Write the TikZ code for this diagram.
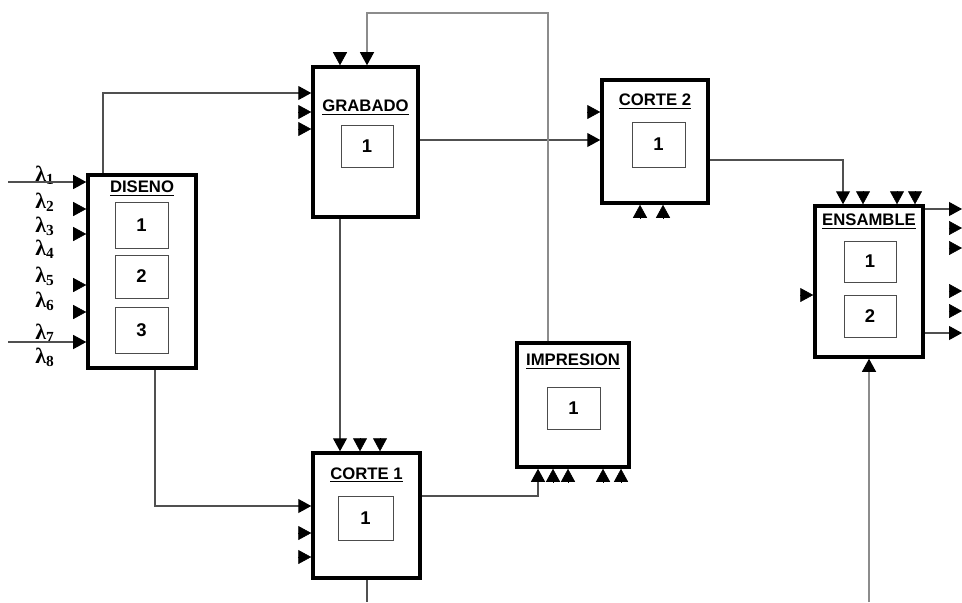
\documentclass[tikz,border=0pt]{standalone}
\usepackage{fontspec}
\setmainfont{Liberation Sans}
\newfontfamily\grkfont{Liberation Serif}
\usetikzlibrary{arrows.meta, positioning, calc, fit}
\definecolor{cline}{HTML}{505050}
\definecolor{cfaint}{HTML}{8C8C8C}
\tikzset{
  blk/.style={draw, line width=2pt, inner sep=0pt},
  cell/.style={draw=black!70, line width=0.5pt, inner sep=0pt, minimum width=1.06cm, minimum height=0.88cm, font=\bfseries\fontsize{10.5}{12}\selectfont},
  ttl/.style={font=\bfseries\fontsize{9.5}{11}\selectfont, inner sep=1pt},
  conn/.style={draw=cline, line width=0.6pt},
  faint/.style={draw=cfaint, line width=0.6pt},
  tip/.style={-{Triangle[length=0.26cm, width=0.28cm, color=black]}},
  stub/.style={tip, line width=0.3pt},
  lam/.style={font=\grkfont\bfseries\fontsize{12.5}{13}\selectfont, inner sep=0pt},
}

\begin{document}
\begin{tikzpicture}[x=0.02cm, y=-0.02cm]
  \useasboundingbox (0,0) rectangle (962,602);
  % process blocks
  \node[blk, fit={(88,175) (196,368)}] (dis) {};
  \node[blk, fit={(313,67) (418,217)}] (gra) {};
  \node[blk, fit={(602,80) (708,203)}] (co2) {};
  \node[blk, fit={(313,453) (420,578)}] (co1) {};
  \node[blk, fit={(517,343) (629,467)}] (imp) {};
  \node[blk, fit={(815,206) (923,357)}] (ens) {};
  % titles
  \node[ttl] (disT) at (dis.north |- 0,189) {\underline{DISENO}};
  \node[ttl] (graT) at (gra.north |- 0,108) {\underline{GRABADO}};
  \node[ttl] (co2T) at (co2.north |- 0,102) {\underline{CORTE 2}};
  \node[ttl] (co1T) at (co1.north |- 0,475) {\underline{CORTE 1}};
  \node[ttl] (impT) at (imp.north |- 0,362) {\underline{IMPRESION}};
  \node[ttl] (ensT) at (ens.north |- 0,222) {\underline{ENSAMBLE}};
  % inner cells
  \node[cell, minimum height=0.92cm] (dis1) at (141.5,225) {1};
  \node[cell, minimum height=0.86cm] (dis2) at (141.5,276.5) {2};
  \node[cell, minimum height=0.92cm] (dis3) at (141.5,330) {3};
  \node[cell, minimum width=1.04cm, minimum height=0.84cm] (gra1) at (367,146) {1};
  \node[cell, minimum height=0.9cm] (co21) at (658.5,144.5) {1};
  \node[cell, minimum width=1.1cm] (co11) at (365.5,518) {1};
  \node[cell, minimum height=0.84cm] (imp1) at (573.5,408) {1};
  \node[cell, minimum width=1.04cm, minimum height=0.82cm] (ens1) at (870,261.5) {1};
  \node[cell, minimum width=1.04cm, minimum height=0.84cm] (ens2) at (870,316) {2};
  % lambda inputs
  \foreach \i/\y in {1/175,2/202,3/226,4/249,5/276,6/301,7/333,8/357}
    \node[lam] (l\i) at (45,\y) {λ\textsubscript{\i}};
  \coordinate (in1) at (8,182);
  \coordinate (in7) at (8,342);
  \draw[conn, tip] (in1) -- (dis.west |- in1);
  \draw[conn, tip] (in7) -- (dis.west |- in7);
  % connectors
  \draw[conn, tip] (dis.north -| 103,0) |- (gra.west |- 0,93);
  \draw[conn, tip] (dis.south -| 155,0) |- (co1.west |- 0,506);
  \draw[conn, tip] (gra.east |- 0,140) -- (co2.west |- 0,140);
  \draw[conn, tip] (gra.south -| 340,0) -- (co1.north -| 340,0);
  \draw[faint, tip] (imp.north -| 548,0) |- (367,13) -- (gra.north -| 367,0);
  \draw[conn, tip] (co1.east |- 0,496) -| (imp.south -| 538,0);
  \draw[conn, tip] (co2.east |- 0,160) -| (ens.north -| 843,0);
  \coordinate (outE1) at (962,209);
  \coordinate (outE2) at (962,333);
  \draw[conn, tip] (ens.east |- outE1) -- (outE1);
  \draw[conn, tip] (ens.east |- outE2) -- (outE2);
  \coordinate (inE) at (869,602);
  \draw[faint, tip] (inE) -- (ens.south -| inE);
  \coordinate (outC1) at (367,602);
  \draw[conn] (co1.south -| outC1) -- (outC1);
  % arrow stubs
  \foreach \y in {209,234,285,312}
    \draw[stub] ($(dis.west |- 0,\y)+(-13,0)$) -- (dis.west |- 0,\y);
  \foreach \y in {112,129}
    \draw[stub] ($(gra.west |- 0,\y)+(-13,0)$) -- (gra.west |- 0,\y);
  \draw[stub] ($(gra.north -| 340,0)+(0,-13)$) -- (gra.north -| 340,0);
  \draw[stub] ($(co2.west |- 0,112)+(-13,0)$) -- (co2.west |- 0,112);
  \foreach \x in {640,663}
    \draw[stub] ($(co2.south -| \x,0)+(0,13)$) -- (co2.south -| \x,0);
  \foreach \x in {360,380}
    \draw[stub] ($(co1.north -| \x,0)+(0,-13)$) -- (co1.north -| \x,0);
  \foreach \y in {533,557}
    \draw[stub] ($(co1.west |- 0,\y)+(-13,0)$) -- (co1.west |- 0,\y);
  \foreach \x in {553,568,603,621}
    \draw[stub] ($(imp.south -| \x,0)+(0,13)$) -- (imp.south -| \x,0);
  \foreach \x in {863,897,915}
    \draw[stub] ($(ens.north -| \x,0)+(0,-13)$) -- (ens.north -| \x,0);
  \foreach \y in {228,248,291,311}
    \draw[stub] (949,\y) -- (962,\y);
  \draw[stub] ($(ens.west |- 0,295)+(-13,0)$) -- (ens.west |- 0,295);
\end{tikzpicture}
\end{document}
